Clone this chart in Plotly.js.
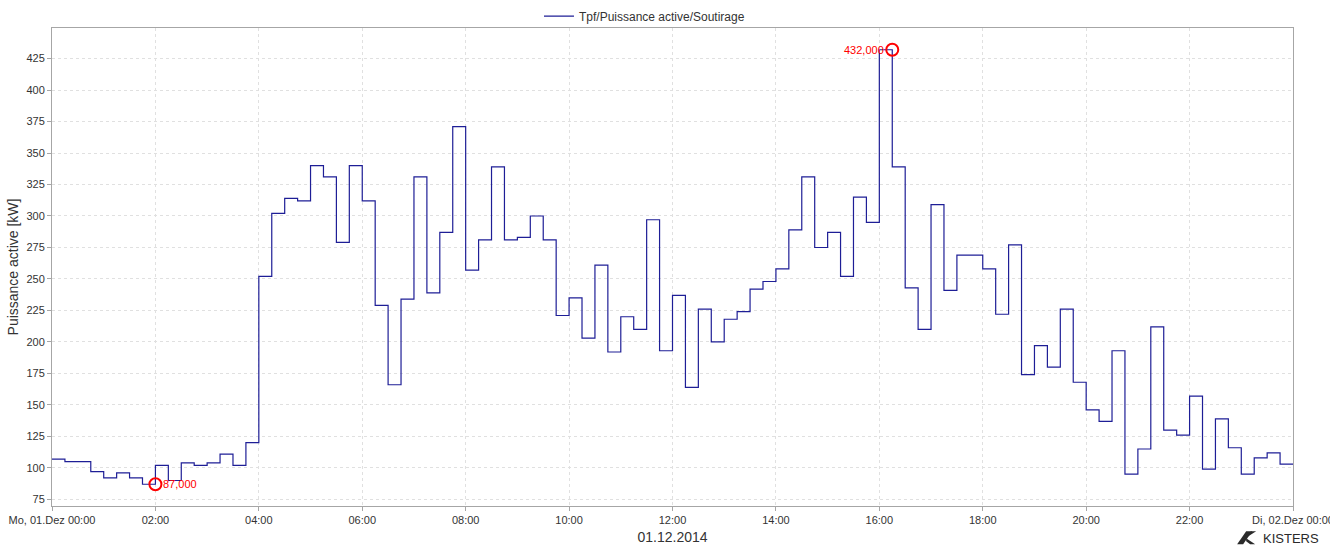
<!DOCTYPE html>
<html>
<head>
<meta charset="utf-8">
<script src="https://cdn.plot.ly/plotly-3.0.1.min.js"></script>
<style>html,body{margin:0;padding:0;background:#fff;}#chart{width:1330px;height:545px;}</style>
</head>
<body>
<div id="chart"></div>
<script>
// 15-minute values (kW), interval 00:00-00:15 ... 23:45-24:00
const values = [
  107, 105, 105, 97, 92, 96, 92, 87,
  102, 90, 104, 102, 104, 111, 102, 120,
  252, 302, 314, 312, 340, 331, 279, 340,
  312, 229, 166, 234, 331, 239, 287, 371,
  257, 281, 339, 281, 283, 300, 281, 221,
  235, 203, 261, 192, 220, 210, 297, 193,
  237, 164, 226, 200, 218, 224, 242, 248,
  258, 289, 331, 275, 287, 252, 315, 295,
  432, 339, 243, 210, 309, 241, 269, 269,
  258, 222, 277, 174, 197, 180, 226, 168,
  146, 137, 193, 95, 115, 212, 130, 126,
  157, 99, 139, 116, 95, 108, 112, 103
];
const seriesName = "Tpf/Puissance active/Soutirage";
const startTime = "2014-12-01T00:00:00";
const stepMinutes = 15;
const xTickVals = ["2014-12-01 00:00","2014-12-01 02:00","2014-12-01 04:00","2014-12-01 06:00","2014-12-01 08:00","2014-12-01 10:00","2014-12-01 12:00","2014-12-01 14:00","2014-12-01 16:00","2014-12-01 18:00","2014-12-01 20:00","2014-12-01 22:00","2014-12-02 00:00"];
const xTickText = ["Mo, 01.Dez 00:00","02:00","04:00","06:00","08:00","10:00","12:00","14:00","16:00","18:00","20:00","22:00","Di, 02.Dez 00:00"];
const yTickVals = [75,100,125,150,175,200,225,250,275,300,325,350,375,400,425];
const xTitle = "01.12.2014";
const yTitle = "Puissance active [kW]";
const logoText = "KISTERS";

function fmt(d){
  const p = n => String(n).padStart(2,"0");
  return d.getFullYear()+"-"+p(d.getMonth()+1)+"-"+p(d.getDate())+" "+p(d.getHours())+":"+p(d.getMinutes());
}
const t0 = new Date(startTime);
const tAt = i => fmt(new Date(t0.getTime() + i*stepMinutes*60000));

// step line: value i spans [t_i, t_{i+1}]
const xs = [], ys = [];
for (let i = 0; i <= values.length; i++) {
  xs.push(tAt(i));
  ys.push(values[Math.min(i, values.length-1)]);
}
// min / max stamped at interval end
let iMin = 0, iMax = 0;
values.forEach((v,i)=>{ if (v < values[iMin]) iMin = i; if (v > values[iMax]) iMax = i; });
const fmtVal = v => v.toFixed(3).replace(".", ",");

const traces = [
  {x: xs, y: ys, type: "scatter", mode: "lines", name: seriesName,
   line: {shape: "hv", color: "#1e1e96", width: 1.2}, hoverinfo: "skip"},
  {x: [tAt(iMin+1), tAt(iMax+1)], y: [values[iMin], values[iMax]], type: "scatter", mode: "markers",
   marker: {symbol: "circle-open", size: 12, color: "#ff0000", line: {width: 2, color: "#ff0000"}},
   showlegend: false, hoverinfo: "skip"}
];

const axisCommon = {
  showgrid: true, gridcolor: "#e0e0e0", griddash: "dot", gridwidth: 1,
  showline: true, linecolor: "#a6a6a6", linewidth: 1, mirror: true,
  ticks: "outside", ticklen: 4, tickcolor: "#a6a6a6",
  tickfont: {family: "Liberation Sans, Arial, sans-serif", size: 11, color: "#333"},
  zeroline: false, fixedrange: true, automargin: false
};

const layout = {
  width: 1330, height: 545,
  margin: {l: 52, r: 37, t: 28, b: 39, autoexpand: false},
  paper_bgcolor: "#fff", plot_bgcolor: "#fff",
  font: {family: "Liberation Sans, Arial, sans-serif", color: "#333"},
  showlegend: true,
  legend: {orientation: "h", x: 0.3924, xanchor: "left", y: 1.025, yanchor: "middle",
           font: {size: 12, color: "#333"}, bgcolor: "rgba(0,0,0,0)"},
  xaxis: Object.assign({}, axisCommon, {
    type: "date", range: [xTickVals[0], xTickVals[xTickVals.length-1]],
    tickmode: "array", tickvals: xTickVals, ticktext: xTickText, ticklabeloverflow: "allow",
    title: {text: xTitle, font: {size: 14, color: "#333"}, standoff: 6}
  }),
  yaxis: Object.assign({}, axisCommon, {
    range: [69.75, 449.25], tickmode: "array", tickvals: yTickVals,
    title: {text: yTitle, font: {size: 14, color: "#333"}, standoff: 4}
  }),
  annotations: [
    {x: tAt(iMin+1), y: values[iMin], xref: "x", yref: "y", text: fmtVal(values[iMin]),
     showarrow: false, xanchor: "left", yanchor: "middle", xshift: 6,
     font: {size: 11, color: "#ff0000"}},
    {x: tAt(iMax+1), y: values[iMax], xref: "x", yref: "y", text: fmtVal(values[iMax]),
     showarrow: false, xanchor: "right", yanchor: "middle", xshift: -6,
     font: {size: 11, color: "#ff0000"}},
    {x: 0.9745, y: -0.068, xref: "paper", yref: "paper", text: logoText, showarrow: false,
     xanchor: "left", yanchor: "middle", font: {size: 13, color: "#2a2a2a"}}
  ],
  shapes: [
    {type: "path", xref: "paper", yref: "paper", xsizemode: "pixel", ysizemode: "pixel",
     xanchor: 0.955, yanchor: -0.08,
     path: "M 0 0 L 6 0 L 15 13 L 9 13 Z", fillcolor: "#2a2a2a", line: {width: 0}},
    {type: "path", xref: "paper", yref: "paper", xsizemode: "pixel", ysizemode: "pixel",
     xanchor: 0.955, yanchor: -0.08,
     path: "M 8 6 L 19 13 L 14 13 L 8 9 Z M 9 6 L 18 0 L 13 0 L 9 3 Z", fillcolor: "#2a2a2a", line: {width: 0}}
  ]
};

Plotly.newPlot("chart", traces, layout, {displayModeBar: false, staticPlot: true});
</script>
</body>
</html>
